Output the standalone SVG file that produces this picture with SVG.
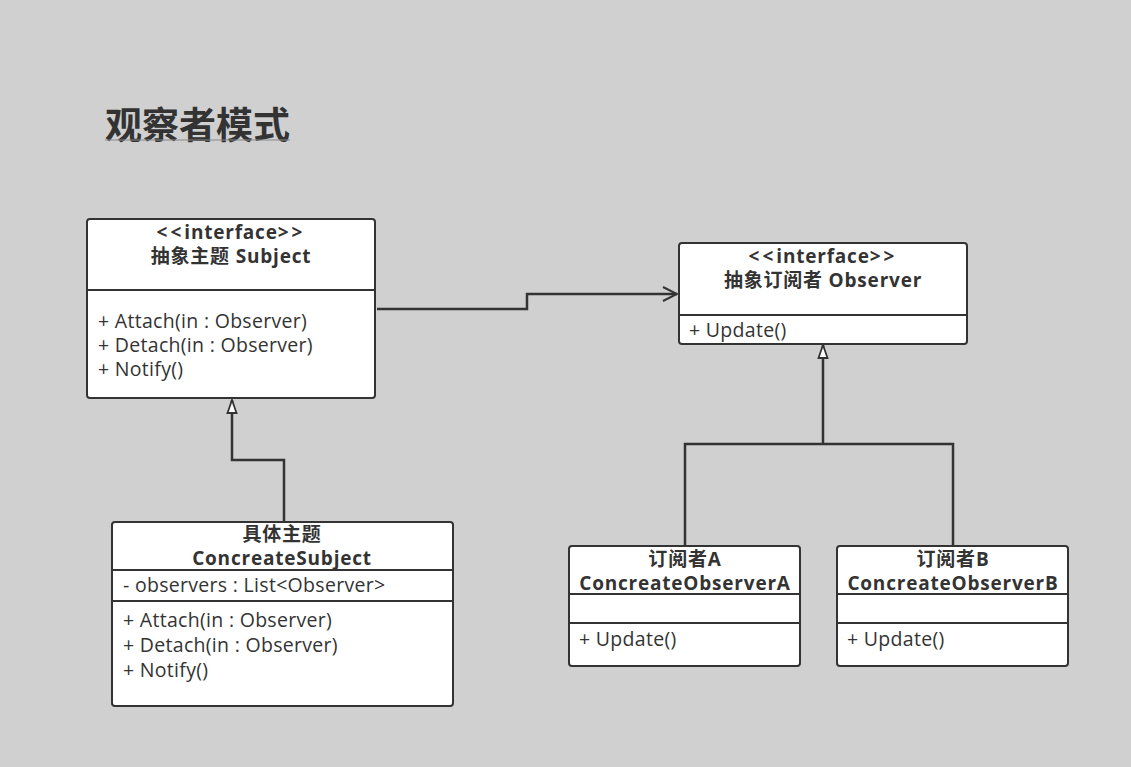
<svg xmlns="http://www.w3.org/2000/svg" width="1131" height="767" viewBox="0 0 1131 767">
<style>
text{font-family:"Open Sans","Noto Sans CJK SC",sans-serif;fill:#333;}
.b{font-weight:bold;font-size:19px;letter-spacing:0.8px;text-anchor:middle;}
.m{font-size:19.5px;letter-spacing:0.3px;}
.sp{letter-spacing:3px;}
.box{fill:#fff;stroke:#333;stroke-width:2;}
.div{stroke:#333;stroke-width:2;}
.c{fill:none;stroke:#333;stroke-width:2.5;}
</style>
<defs>
<marker id="tri" markerWidth="16" markerHeight="12" refX="15" refY="6" orient="auto" markerUnits="userSpaceOnUse" viewBox="0 0 16 12">
<path d="M15,6 L2,1.5 L2,10.5 Z" fill="#fff" stroke="#333" stroke-width="1.8"/>
</marker>
<marker id="open" markerWidth="20" markerHeight="20" refX="18" refY="10" orient="auto" markerUnits="userSpaceOnUse" viewBox="0 0 20 20">
<path d="M4,3 L18,10 L4,17" fill="none" stroke="#333" stroke-width="2"/>
</marker>
</defs>
<rect width="1131" height="767" fill="#d0d0d0"/>
<g id="title">
<text x="105" y="139" style="font-family:'Noto Sans CJK SC',sans-serif;font-size:37px;font-weight:bold;">观察者模式</text>
<line x1="105" y1="140" x2="290" y2="140" stroke="#888" stroke-width="1"/>
</g>
<g id="connectors">
<path class="c" d="M377,309 H527 V294 H677" marker-end="url(#open)"/>
<path class="c" d="M284,522 V460 H232 V400" marker-end="url(#tri)"/>
<path class="c" d="M823,444 V345" marker-end="url(#tri)"/>
<path class="c" d="M685,546 V444 H953 V546"/>
</g>
<g id="subject">
<rect class="box" x="87" y="219" width="288" height="179" rx="3"/>
<line class="div" x1="87" y1="290" x2="375" y2="290"/>
<text class="b" x="231" y="239"><tspan class="sp">&lt;&lt;</tspan>interface<tspan class="sp">&gt;&gt;</tspan></text>
<text class="b" x="231" y="263">抽象主题 Subject</text>
<text class="m" x="98" y="328">+ Attach(in : Observer)</text>
<text class="m" x="98" y="352">+ Detach(in : Observer)</text>
<text class="m" x="98" y="376">+ Notify()</text>
</g>
<g id="observer">
<rect class="box" x="679" y="243" width="288" height="101" rx="3"/>
<line class="div" x1="679" y1="315" x2="967" y2="315"/>
<text class="b" x="823" y="263"><tspan class="sp">&lt;&lt;</tspan>interface<tspan class="sp">&gt;&gt;</tspan></text>
<text class="b" x="823" y="287">抽象订阅者 Observer</text>
<text class="m" x="689" y="337">+ Update()</text>
</g>
<g id="concreteSubject">
<rect class="box" x="112" y="522" width="341" height="184" rx="3"/>
<line class="div" x1="112" y1="570" x2="453" y2="570"/>
<line class="div" x1="112" y1="601" x2="453" y2="601"/>
<text class="b" x="282" y="541">具体主题</text>
<text class="b" x="282" y="565">ConcreateSubject</text>
<text class="m" x="123" y="592">- observers : List&lt;Observer&gt;</text>
<text class="m" x="123" y="627">+ Attach(in : Observer)</text>
<text class="m" x="123" y="652">+ Detach(in : Observer)</text>
<text class="m" x="123" y="677">+ Notify()</text>
</g>
<g id="observerA">
<rect class="box" x="569" y="546" width="231" height="120" rx="3"/>
<line class="div" x1="569" y1="594" x2="800" y2="594"/>
<line class="div" x1="569" y1="623" x2="800" y2="623"/>
<text class="b" x="685" y="566">订阅者A</text>
<text class="b" x="685" y="590">ConcreateObserverA</text>
<text class="m" x="579" y="646">+ Update()</text>
</g>
<g id="observerB">
<rect class="box" x="837" y="546" width="231" height="120" rx="3"/>
<line class="div" x1="837" y1="594" x2="1068" y2="594"/>
<line class="div" x1="837" y1="623" x2="1068" y2="623"/>
<text class="b" x="953" y="566">订阅者B</text>
<text class="b" x="953" y="590">ConcreateObserverB</text>
<text class="m" x="847" y="646">+ Update()</text>
</g>
</svg>
